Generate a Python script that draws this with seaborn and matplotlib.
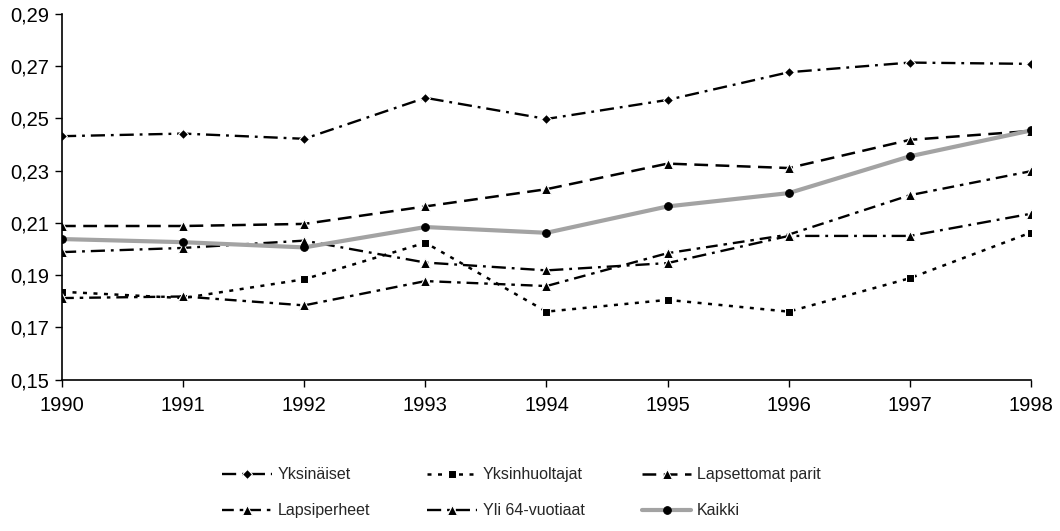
import matplotlib
matplotlib.use("Agg")
import matplotlib.pyplot as plt
from matplotlib.ticker import FuncFormatter, FixedLocator
import seaborn as sns

sns.set_style("ticks")
plt.rcParams["font.family"] = ["Liberation Sans", "DejaVu Sans"]

years = [1990, 1991, 1992, 1993, 1994, 1995, 1996, 1997, 1998]

yksinaiset = [0.2432, 0.2442, 0.2422, 0.2579, 0.2498, 0.2571, 0.2677, 0.2714, 0.2709]
yksinhuoltajat = [0.1836, 0.1812, 0.1884, 0.2024, 0.1760, 0.1805, 0.1760, 0.1888, 0.2063]
lapsettomat_parit = [0.2088, 0.2088, 0.2096, 0.2163, 0.2229, 0.2327, 0.2310, 0.2418, 0.2452]
lapsiperheet = [0.1812, 0.1818, 0.1784, 0.1877, 0.1858, 0.1984, 0.2055, 0.2206, 0.2298]
yli_64 = [0.1988, 0.2004, 0.2032, 0.1948, 0.1918, 0.1946, 0.2050, 0.2050, 0.2135]
kaikki = [0.2038, 0.2026, 0.2006, 0.2084, 0.2062, 0.2163, 0.2214, 0.2355, 0.2454]

labels = ["Yksinäiset", "Yksinhuoltajat", "Lapsettomat parit",
          "Lapsiperheet", "Yli 64-vuotiaat", "Kaikki"]
y_ticks = [0.15, 0.17, 0.19, 0.21, 0.23, 0.25, 0.27, 0.29]

fig = plt.figure(figsize=(10.6, 5.31), dpi=100)
ax = fig.add_axes([0.0585, 0.2853, 0.9141, 0.6883])

styles = [
    dict(linestyle=(0, (6, 2.5, 1.2, 2.5)), marker="D", markersize=5, color="black", linewidth=1.7),
    dict(linestyle=(0, (1.6, 2.6)), marker="s", markersize=6, color="black", linewidth=1.8),
    dict(linestyle=(0, (5.5, 3)), marker="^", markersize=6.5, color="black", linewidth=1.8),
    dict(linestyle=(0, (5, 2.5, 1.5, 2.5)), marker="^", markersize=6.5, color="black", linewidth=1.7),
    dict(linestyle=(0, (6, 2.5, 1.2, 2.5)), marker="^", markersize=6.5, color="black", linewidth=1.7),
    dict(linestyle="-", marker="o", markersize=5.5, color="#a3a3a3", linewidth=3.0,
         markerfacecolor="black", markeredgecolor="black"),
]

series = [yksinaiset, yksinhuoltajat, lapsettomat_parit, lapsiperheet, yli_64, kaikki]
for vals, lab, st in zip(series, labels, styles):
    sns.lineplot(x=years, y=vals, ax=ax, label=lab, **st)

ax.set_xlim(1990, 1998)
ax.set_ylim(0.15, 0.29)
ax.yaxis.set_major_locator(FixedLocator(y_ticks))
ax.yaxis.set_major_formatter(FuncFormatter(lambda v, p: f"{v:.2f}".replace(".", ",")))
ax.xaxis.set_major_locator(FixedLocator(years))
ax.xaxis.set_major_formatter(FuncFormatter(lambda v, p: f"{int(round(v))}"))
ax.tick_params(axis="both", labelsize=14.5, length=5, width=1, color="black",
               direction="out", labelcolor="black")
ax.tick_params(axis="x", pad=7)
ax.tick_params(axis="y", pad=4)
for side in ("top", "right"):
    ax.spines[side].set_visible(False)
for side in ("left", "bottom"):
    ax.spines[side].set_linewidth(1.2)
    ax.spines[side].set_color("black")
ax.set_xlabel("")
ax.set_ylabel("")

handles, labs = ax.get_legend_handles_labels()
ax.get_legend().remove()
order = [0, 3, 1, 4, 2, 5]
fig.legend([handles[i] for i in order], [labs[i] for i in order],
           ncol=3, loc="center", bbox_to_anchor=(0.492, 0.072),
           frameon=False, fontsize=11.5, handlelength=3.1, handletextpad=0.35,
           columnspacing=3.6, labelspacing=1.3)

fig.savefig("out.png", dpi=100)
